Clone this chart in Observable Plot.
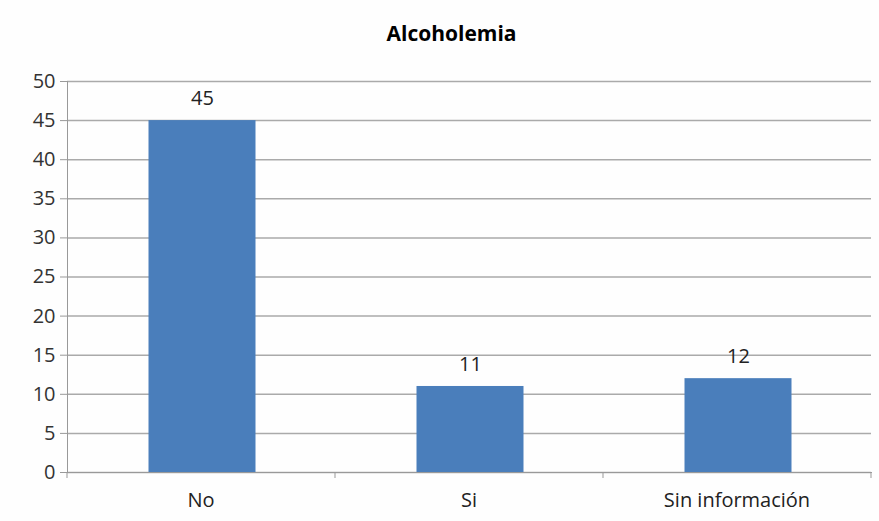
<!DOCTYPE html>
<html>
<head>
<meta charset="utf-8">
<script src="https://cdn.jsdelivr.net/npm/d3@7"></script>
<script src="https://cdn.jsdelivr.net/npm/@observablehq/plot@0.6"></script>
<style>
  body { margin: 0; background: #fff; }
  #wrap { width: 879px; height: 521px; position: relative; background: #fefefe; }
  #title { height: 60px; line-height: 66px; text-align: center; padding-left: 24px; box-sizing: border-box;
           font-family: "Open Sans", "Liberation Sans", sans-serif; font-weight: bold; font-size: 21px; color: #000; }
</style>
</head>
<body>
<div id="wrap"><div id="title">Alcoholemia</div><div id="chart"></div></div>
<script>
const categories = ["No", "Si", "Sin información"];
const values = [45, 11, 12];
const yTicks = [0, 5, 10, 15, 20, 25, 30, 35, 40, 45, 50];

const data = categories.map((c, i) => ({category: c, value: values[i]}));

const W = 879, H = 461, mL = 67, mR = 8, mT = 21, mB = 49;
const step = (W - mL - mR) / categories.length;
const font = '"Open Sans", "Liberation Sans", sans-serif';
const fs = 20;

const chart = Plot.plot({
  width: W, height: H,
  marginLeft: mL, marginRight: mR, marginTop: mT, marginBottom: mB,
  style: {fontFamily: font, fontSize: fs + "px", color: "#222", background: "transparent"},
  x: {domain: categories, paddingInner: 0.6, paddingOuter: 0.3},
  y: {domain: [0, 50]},
  marks: [
    Plot.ruleY(yTicks, {stroke: "#aaa", strokeWidth: 1.5}),
    Plot.axisY({ticks: yTicks, tickSize: 7, tickPadding: 5, stroke: "#999", label: null, fill: "#333", fontSize: fs}),
    Plot.barY(data, {x: "category", y: "value", fill: "#4a7ebb", dx: 1.5}),
    Plot.text(data, {x: "category", y: "value", text: d => String(d.value), dy: -22, dx: 1.5, fontSize: fs, fill: "#222"}),
    Plot.frame({anchor: "left", stroke: "#999"}),
    Plot.frame({anchor: "bottom", stroke: "#999"}),
    Plot.axisX({tickSize: 6, dx: -step / 2, stroke: "#999", tickFormat: () => "", label: null}),
    Plot.axisX({ticks: [categories[categories.length - 1]], tickSize: 6, dx: step / 2, stroke: "#999", tickFormat: () => "", label: null}),
    Plot.axisX({tickSize: 0, tickPadding: 20, label: null, fill: "#222", fontSize: fs})
  ]
});
document.getElementById("chart").appendChild(chart);
</script>
</body>
</html>
